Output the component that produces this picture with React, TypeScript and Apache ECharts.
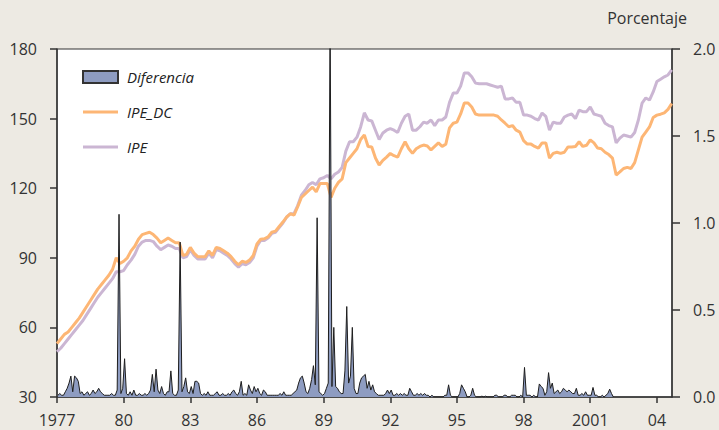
import React, { useEffect, useRef } from "react";
import * as echarts from "echarts";

// Bimonthly readings (Jan, Mar, May, Jul, Sep, Nov) from 1977 to mid-2004, left axis
const ipeDC = [
  53, 55, 57, 58, 60, 62,
  64, 66.5, 69, 71.5, 74, 76.5,
  78.5, 80.5, 82.5, 85, 90, 87.5,
  88.5, 90, 93, 95, 98, 100,
  100.5, 101, 100, 98.5, 96.5, 97.5,
  98.5, 97.5, 96.5, 96.5, 91, 91.5,
  94.5, 92, 90.5, 90.5, 90.5, 93,
  91, 94.5, 94, 93, 92, 90.5,
  88.5, 87, 88.5, 88, 89, 91,
  96, 98, 98.2, 99, 101, 101.5,
  103.5, 105.4, 107.5, 109, 108.4, 112,
  116, 117.5, 119, 120.5, 118.4, 122,
  122, 122, 116, 120, 122.5, 124,
  131, 133, 135, 137, 141, 143,
  138, 137.8, 133, 130, 132, 133.4,
  135, 134, 133.4, 137, 140, 137,
  135, 137, 138, 138.6, 138.2, 136.5,
  138, 139.5, 138, 139, 146, 148,
  148.5, 152, 156.7, 156.7, 155, 152,
  151.5, 151.5, 151.5, 151.5, 151.5, 151,
  149.4, 148, 146.5, 147, 145, 144.2,
  140.5, 139, 139, 138, 137.3, 139.5,
  139.5, 133, 135, 135.5, 135, 135.5,
  137.8, 137.8, 138, 140, 138, 138.5,
  140.8, 139.5, 137.3, 137, 135.5, 134.5,
  133, 125.7, 127, 128.5, 129, 128.5,
  131, 136.5, 142, 144.2, 146.4, 150.5,
  151.5, 151.9, 152.5, 154, 156.5,
];

const ipe = [
  49.5, 51, 53, 55, 57, 59,
  61, 63, 65.5, 68, 70.5, 73,
  75, 77, 79, 81, 84, 84,
  84.5, 87, 89, 91.5, 95, 96.8,
  97.5, 97.5, 97, 95, 93.5, 94.5,
  95.5, 95, 94, 94, 90, 90.5,
  93.5, 91, 89.5, 89.5, 89.5, 92,
  90, 93.5, 93, 92, 91, 89.5,
  87.5, 86, 87.5, 87, 88, 90,
  95, 97.5, 97.5, 98.5, 100.5, 101,
  103, 105, 107.5, 109, 109, 112.5,
  117, 119, 121.5, 122.5, 121.5, 124,
  124.5, 125.5, 124, 126, 127, 129,
  136, 140, 140, 142, 146.4, 152.5,
  149.4, 149, 145, 141, 143.8, 145,
  145.7, 145, 144, 148, 151, 152,
  145, 145, 146.5, 148.5, 148, 149.4,
  147, 149.4, 149.4, 150.7, 157, 161,
  161, 164, 169.7, 169.7, 168, 165.3,
  165, 165, 165, 164.5, 164, 163.5,
  164, 158.5, 158.5, 158.9, 157, 157,
  151.5, 151.5, 151, 150, 149.4, 152.4,
  151, 145, 148.5, 148, 148, 150.7,
  151.5, 152, 150, 153.7, 153, 153,
  155, 152, 151.5, 151, 148, 147,
  146.4, 139.5, 141.6, 142.9, 142.5, 142,
  144, 149.4, 156.7, 158.9, 158, 161.5,
  166, 167, 168, 168.8, 171,
];

// Monthly difference (percent), right axis, Jan 1977 onwards
const diferencia = [
  0.01, 0.02, 0.01, 0.01, 0.03, 0.05, 0.08, 0.12, 0.03, 0.12, 0.11, 0.09,
  0.02, 0.03, 0.01, 0.02, 0.03, 0.01, 0.02, 0.04, 0.02, 0.03, 0.05, 0.03,
  0.02, 0.01, 0.01, 0.01, 0.01, 0.02, 0.01, 0.01, 0.04, 1.05, 0.02, 0.05,
  0.22, 0.02, 0.01, 0.03, 0.01, 0.04, 0.01, 0.01, 0.02, 0.01, 0.01, 0.02,
  0.01, 0.02, 0.04, 0.13, 0.03, 0.16, 0.04, 0.02, 0.06, 0.02, 0.01, 0.03,
  0.03, 0.15, 0.02, 0.01, 0.01, 0.04, 0.89, 0.03, 0.06, 0.11, 0.03, 0.02,
  0.06, 0.02, 0.09, 0.09, 0.08, 0.02, 0.01, 0.02, 0.01, 0.03, 0.01, 0.01,
  0.01, 0.02, 0.03, 0.01, 0.01, 0.02, 0.01, 0.01, 0.02, 0.01, 0.03, 0.04,
  0.02, 0.01, 0.03, 0.09, 0.01, 0.02, 0.01, 0.07, 0.04, 0.02, 0.06, 0.03,
  0.05, 0.02, 0.01, 0.04, 0.03, 0.01, 0.01, 0.01, 0.01, 0.01, 0.01, 0.01,
  0.02, 0.01, 0.03, 0.01, 0.01, 0.01, 0.01, 0.02, 0.03, 0.04, 0.08, 0.11,
  0.12, 0.08, 0.03, 0.02, 0.05, 0.1, 0.18, 0.07, 1.03, 0.03, 0.02, 0.01,
  0.02, 0.05, 0.08, 2.2, 0.06, 0.4, 0.06, 0.05, 0.03, 0.02, 0.02, 0.15,
  0.52, 0.08, 0.12, 0.4, 0.05, 0.02, 0.02, 0.08, 0.11, 0.12, 0.13, 0.05,
  0.09, 0.04, 0.07, 0.03, 0.02, 0.01, 0.01, 0.01, 0.01, 0.02, 0.04, 0.02,
  0.04, 0.01, 0.01, 0.02, 0.01, 0.02, 0.01, 0.02, 0.01, 0.01, 0.05, 0.03,
  0.01, 0.01, 0.02, 0.01, 0.02, 0.01, 0.02, 0.01, 0.01, 0, 0.01, 0,
  0, 0, 0, 0, 0, 0.01, 0.01, 0.07, 0.01, 0, 0, 0,
  0, 0.02, 0.07, 0.05, 0.03, 0, 0, 0.01, 0.05, 0.01, 0, 0,
  0, 0.005, 0, 0.005, 0, 0, 0, 0, 0.01, 0.01, 0, 0,
  0, 0.01, 0.01, 0, 0, 0.01, 0.01, 0.01, 0, 0, 0.01, 0,
  0.17, 0.01, 0.01, 0.01, 0, 0.01, 0, 0, 0.075, 0.06, 0.05, 0.01,
  0.03, 0.14, 0.05, 0.08, 0.02, 0.03, 0.04, 0.02, 0.03, 0.05, 0.04, 0.03,
  0.04, 0.03, 0.02, 0.02, 0.05, 0.01, 0.01, 0.02, 0.01, 0.03, 0.01, 0.01,
  0.01, 0.055, 0.01, 0.01, 0, 0, 0.01, 0, 0.01, 0.02, 0.045, 0.02,
  0,
];

const startYear = 1977;
const endYear = 2004.68;
const leftTicks = { min: 30, max: 180, interval: 30 };
const rightTicks = { min: 0, max: 2, interval: 0.5 };

const FONT = "'Open Sans', 'Noto Sans', sans-serif";
const TEXT = "#333";
const AXIS = "#333";
const LINE_ICON = "path://M0,0H35V3H0Z";

export default function App() {
  const ref = useRef<HTMLDivElement>(null);

  useEffect(() => {
    if (!ref.current) return;
    const chart = echarts.init(ref.current, undefined, { renderer: "svg" });

    const bimonthly = (arr: number[]) => arr.map((v, i) => [startYear + i / 6, v]);
    const monthly = (arr: number[]) => arr.map((v, i) => [startYear + (i + 0.5) / 12, v]);

    chart.setOption({
      animation: false,
      backgroundColor: "#EDEAE3",
      textStyle: { fontFamily: FONT },
      grid: {
        left: 57,
        right: 47,
        top: 49,
        bottom: 33,
        show: true,
        backgroundColor: "#ffffff",
        borderColor: AXIS,
        borderWidth: 1,
      },
      legend: {
        orient: "vertical",
        left: 77,
        top: 64,
        itemWidth: 35,
        itemHeight: 12,
        itemGap: 19,
        textStyle: {
          fontFamily: FONT,
          fontStyle: "italic",
          fontSize: 15,
          color: "#222",
          lineHeight: 16,
          padding: [0, 0, 0, 4],
        },
        data: [
          { name: "Diferencia", icon: "rect" },
          { name: "IPE_DC", icon: LINE_ICON },
          { name: "IPE", icon: LINE_ICON },
        ],
      },
      xAxis: {
        type: "value",
        min: startYear,
        max: endYear,
        interval: 3,
        axisLine: { show: true, lineStyle: { color: AXIS, width: 1.5 } },
        axisTick: { show: true, length: 6, lineStyle: { color: AXIS, width: 1.5 } },
        splitLine: { show: false },
        axisLabel: {
          showMaxLabel: false,
          margin: 15,
          fontSize: 16,
          color: TEXT,
          fontFamily: FONT,
          formatter: (v: number) => {
            if (Math.abs(v - Math.round(v)) > 0.01) return "";
            const y = Math.round(v);
            if (y === 1977 || y === 2001) return String(y);
            return String(y % 100).padStart(2, "0");
          },
        },
      },
      yAxis: [
        {
          type: "value",
          position: "left",
          ...leftTicks,
          axisLine: { show: true, lineStyle: { color: AXIS, width: 1.5 } },
          axisTick: { show: true, length: 7, lineStyle: { color: AXIS, width: 1.5 } },
          splitLine: { show: false },
          axisLabel: { margin: 20, fontSize: 16, color: TEXT, fontFamily: FONT },
        },
        {
          type: "value",
          position: "right",
          ...rightTicks,
          axisLine: { show: true, lineStyle: { color: AXIS, width: 1.5 } },
          axisTick: { show: true, length: 8, lineStyle: { color: AXIS, width: 1.5 } },
          splitLine: { show: false },
          axisLabel: {
            margin: 21,
            fontSize: 16,
            color: TEXT,
            fontFamily: FONT,
            formatter: (v: number) => v.toFixed(1),
          },
        },
      ],
      graphic: [
        {
          type: "text",
          right: 32,
          top: 10,
          style: {
            text: "Porcentaje",
            fontSize: 16,
            fontFamily: FONT,
            fill: TEXT,
          },
        },
      ],
      series: [
        {
          name: "IPE",
          type: "line",
          yAxisIndex: 0,
          data: bimonthly(ipe),
          symbol: "none",
          lineStyle: { color: "#CBB6D3", width: 3 },
          itemStyle: { color: "#CBB6D3" },
          z: 2,
        },
        {
          name: "IPE_DC",
          type: "line",
          yAxisIndex: 0,
          data: bimonthly(ipeDC),
          symbol: "none",
          lineStyle: { color: "#FDB675", width: 3 },
          itemStyle: { color: "#FDB675" },
          z: 3,
        },
        {
          name: "Diferencia",
          type: "line",
          yAxisIndex: 1,
          data: monthly(diferencia),
          symbol: "none",
          clip: true,
          lineStyle: { color: "#1e1e1e", width: 1 },
          itemStyle: { color: "#8E9CC1", borderColor: "#333", borderWidth: 1 },
          areaStyle: { color: "#8E9CC1", opacity: 1 },
          z: 4,
        },
      ],
    });

    return () => chart.dispose();
  }, []);

  return (
    <div
      ref={ref}
      style={{ position: "fixed", left: 0, top: 0, width: 719, height: 430 }}
    />
  );
}
